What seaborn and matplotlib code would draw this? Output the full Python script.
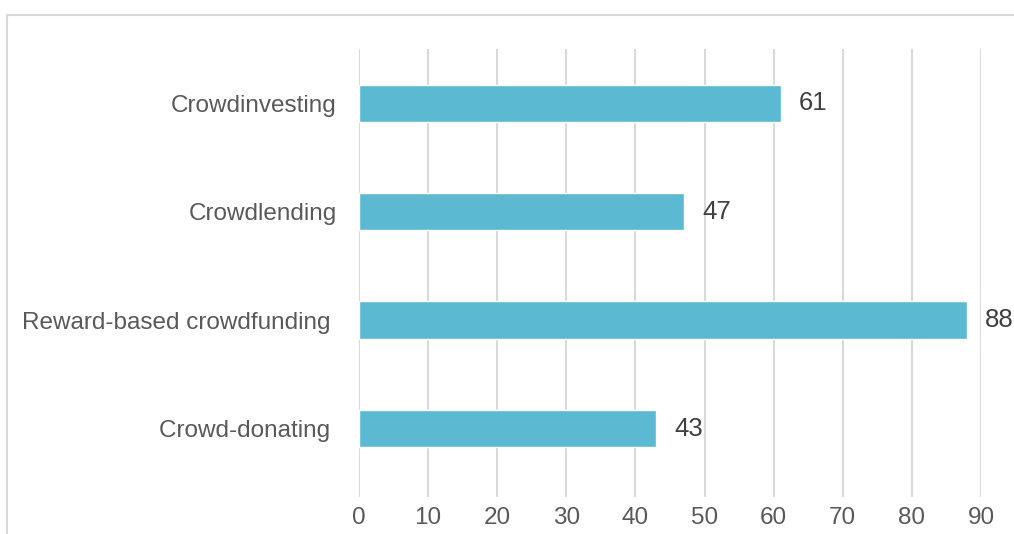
import matplotlib
matplotlib.use("Agg")
import matplotlib.pyplot as plt
from matplotlib.patches import Rectangle
import seaborn as sns
import pandas as pd

# Crowdfunding types and their counts
categories = ["Crowdinvesting", "Crowdlending", "Reward-based crowdfunding ", "Crowd-donating "]
values = [61, 47, 88, 43]
x_ticks = [0, 10, 20, 30, 40, 50, 60, 70, 80, 90]

bar_color = "#5BB9D2"
text_color = "#595959"
grid_color = "#D9D9D9"

sns.set_style("white")
plt.rcParams["font.family"] = ["Liberation Sans", "DejaVu Sans"]

df = pd.DataFrame({"type": categories, "count": values})

fig = plt.figure(figsize=(10.14, 5.34), dpi=100)
ax = fig.add_axes([359 / 1014, 1 - 497 / 534, (981 - 359) / 1014, (497 - 49) / 534])

sns.barplot(data=df, y="type", x="count", orient="h", color=bar_color,
            width=0.345, saturation=1, ax=ax, zorder=3)

ax.set_xlim(0, 90)
ax.set_ylim(3.63, -0.5)
ax.set_xticks(x_ticks)
ax.set_xticklabels([str(t) for t in x_ticks])
ax.set_xlabel("")
ax.set_ylabel("")

ax.grid(axis="x", color=grid_color, linewidth=1.5, zorder=0)
ax.grid(axis="y", visible=False)
for s in ax.spines.values():
    s.set_visible(False)

ax.tick_params(axis="both", length=0, labelsize=17.5, labelcolor=text_color)
ax.tick_params(axis="y", pad=16)
ax.tick_params(axis="x", pad=7)

labels = ax.bar_label(ax.containers[0], labels=[str(v) for v in values], padding=13,
                      fontsize=18.5, color="#404040")
for t in labels:
    t.set_y(t.get_position()[1] - 0.02)

# outer chart frame
fig.patches.append(Rectangle((7 / 1014, -0.1), 1.2, 1 - 15 / 534 + 0.1,
                             transform=fig.transFigure, fill=False,
                             edgecolor=grid_color, linewidth=1.5))

fig.savefig("out.png", dpi=100)
